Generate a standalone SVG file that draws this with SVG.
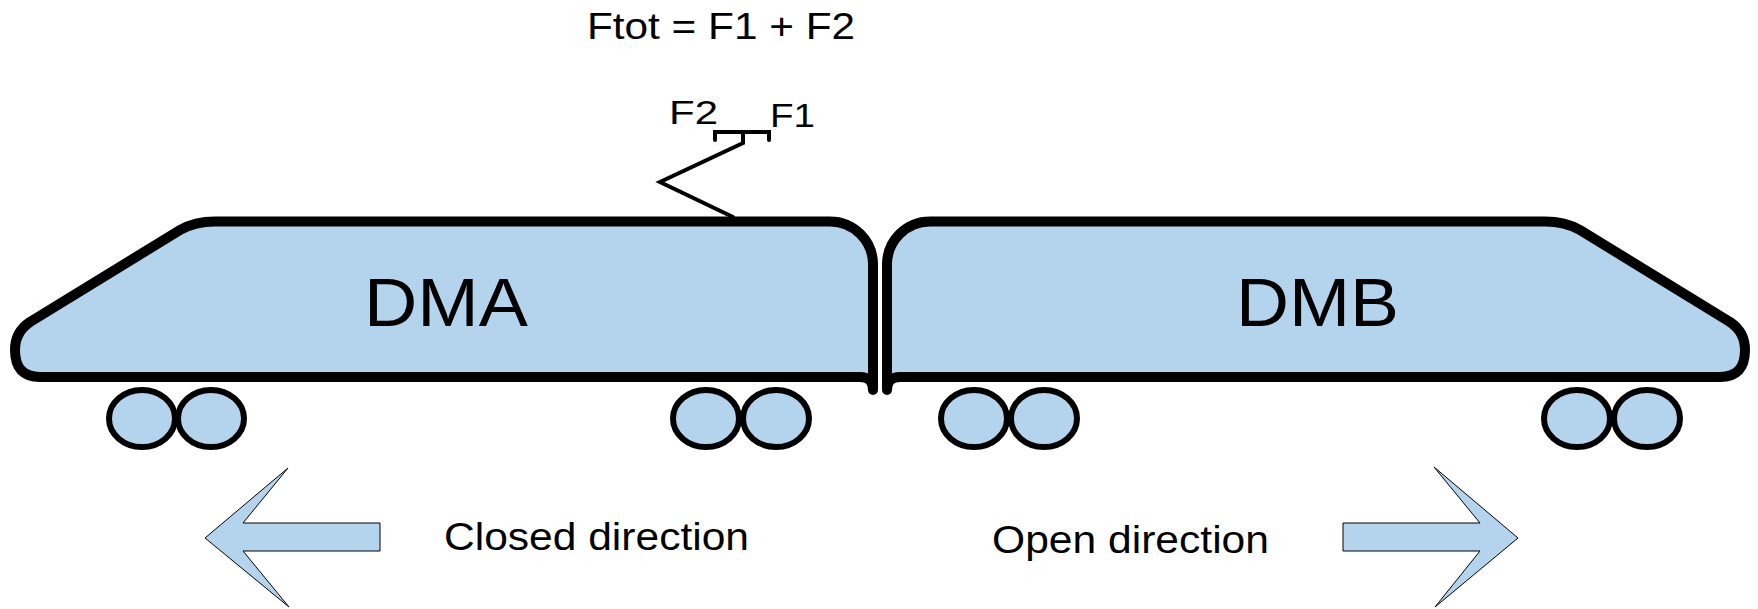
<svg xmlns="http://www.w3.org/2000/svg" width="1758" height="609" viewBox="0 0 1758 609">
  <style>
    .body { fill: #b4d4ed; stroke: #000; stroke-width: 10; stroke-linejoin: round; stroke-linecap: round; }
    .wheel { fill: #b4d4ed; stroke: #000; stroke-width: 6; }
    .pant { fill: none; stroke: #000; stroke-width: 4; stroke-linecap: round; stroke-linejoin: miter; }
    .dir { fill: #b4d4ed; stroke: #000; stroke-width: 1; }
    text { font-family: "Liberation Sans", Arial, sans-serif; fill: #000; }
    .car-label { font-size: 68px; }
    .lbl { font-size: 37px; }
    .dlbl { font-size: 39px; }
    .f { font-size: 34px; }
  </style>
  <rect width="1758" height="609" fill="#fff"/>

  <!-- total force formula -->
  <g id="formula">
    <text class="lbl" x="587" y="39" textLength="268" lengthAdjust="spacingAndGlyphs">Ftot = F1 + F2</text>
  </g>

  <!-- pantograph with its two contact forces -->
  <g id="pantograph">
    <path class="pant" d="M733,217 L660,182 L743,143 L743,132"/>
    <path class="pant" d="M715,140 L715,132 L769,132 L769,140"/>
    <text class="f" x="669" y="124" textLength="49" lengthAdjust="spacingAndGlyphs">F2</text>
    <text class="f" x="770" y="127" textLength="45" lengthAdjust="spacingAndGlyphs">F1</text>
  </g>

  <!-- driving motor car A -->
  <g id="dma">
    <path class="body" d="M873,390 L873,264 A43,43 0 0 0 830,221.5 L215,221.5 Q195,221.5 180,230 L30,322 Q15,332 15,350 Q15,377 40,377 L860,377 Q873,377 873,390 Z"/>
    <text class="car-label" x="364" y="326" textLength="164" lengthAdjust="spacingAndGlyphs">DMA</text>
    <ellipse class="wheel" cx="142" cy="418.5" rx="33" ry="28.5"/>
    <ellipse class="wheel" cx="211" cy="418.5" rx="33" ry="28.5"/>
    <ellipse class="wheel" cx="706" cy="418.5" rx="33" ry="28.5"/>
    <ellipse class="wheel" cx="776" cy="418.5" rx="33" ry="28.5"/>
  </g>

  <!-- driving motor car B -->
  <g id="dmb">
    <path class="body" d="M887,390 L887,264 A43,43 0 0 1 930,221.5 L1545,221.5 Q1565,221.5 1580,230 L1730,322 Q1745,332 1745,350 Q1745,377 1720,377 L900,377 Q887,377 887,390 Z"/>
    <text class="car-label" x="1236" y="326" textLength="163" lengthAdjust="spacingAndGlyphs">DMB</text>
    <ellipse class="wheel" cx="974" cy="418.5" rx="33" ry="28.5"/>
    <ellipse class="wheel" cx="1044" cy="418.5" rx="33" ry="28.5"/>
    <ellipse class="wheel" cx="1577" cy="418.5" rx="33" ry="28.5"/>
    <ellipse class="wheel" cx="1647" cy="418.5" rx="33" ry="28.5"/>
  </g>

  <!-- travel directions -->
  <g id="closed-direction">
    <polygon class="dir" points="205,538 288,468 243,523 380,523 380,551 243,551 289,607"/>
    <text class="dlbl" x="444" y="550" textLength="305" lengthAdjust="spacingAndGlyphs">Closed direction</text>
  </g>
  <g id="open-direction">
    <polygon class="dir" points="1518,538 1434,467 1480,523 1343,523 1343,551 1480,551 1435,607"/>
    <text class="dlbl" x="992" y="553" textLength="277" lengthAdjust="spacingAndGlyphs">Open direction</text>
  </g>
</svg>
